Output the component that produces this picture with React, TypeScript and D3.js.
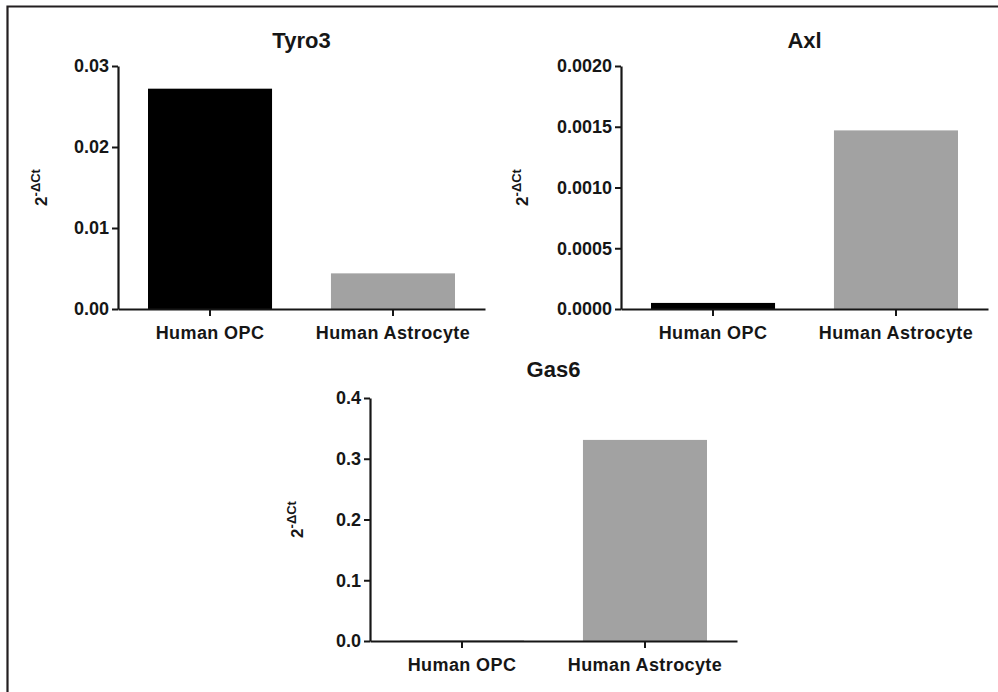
import React from "react";
import { useRef, useEffect } from "react";
import { select, scaleLinear, scaleBand, axisLeft, axisBottom, format } from "d3";

const categories = ["Human OPC", "Human Astrocyte"];
const barColors = ["#000000", "#a2a2a2"];

const tyro3Values = [0.0272, 0.0044];
const axlValues = [0.00005, 0.00147];
const gas6Values = [0.0004, 0.331];

const tyro3Ticks = [0, 0.01, 0.02, 0.03];
const axlTicks = [0, 0.0005, 0.001, 0.0015, 0.002];
const gas6Ticks = [0, 0.1, 0.2, 0.3, 0.4];

const panels = [
  { title: "Tyro3", values: tyro3Values, ticks: tyro3Ticks, fmt: ".2f", x0: 118, x1: 485, y0: 66, y1: 309, titleY: 48, labelX: 47 },
  { title: "Axl", values: axlValues, ticks: axlTicks, fmt: ".4f", x0: 621, x1: 988, y0: 66, y1: 309, titleY: 48, labelX: 528 },
  { title: "Gas6", values: gas6Values, ticks: gas6Ticks, fmt: ".1f", x0: 370, x1: 737, y0: 398, y1: 641, titleY: 377, labelX: 303 },
];

const FONT = "'Liberation Sans', Arial, sans-serif";
const INK = "#161616";

function App() {
  const svgRef = useRef<SVGSVGElement>(null);

  useEffect(() => {
    const svg = select(svgRef.current);
    svg.selectAll("*").remove();

    // frame: only top and left edges show in the figure
    svg
      .append("path")
      .attr("d", "M7.5,692 L7.5,6.5 L998,6.5")
      .attr("fill", "none")
      .attr("stroke", "#231f20")
      .attr("stroke-width", 2.2);

    panels.forEach((p) => {
      const g = svg.append("g");
      const yMax = p.ticks[p.ticks.length - 1];
      const y = scaleLinear().domain([0, yMax]).range([p.y1, p.y0]);
      const x = scaleBand<string>()
        .domain(categories)
        .range([p.x0, p.x1])
        .paddingInner(0.322)
        .paddingOuter(0.164);

      g.selectAll(".bar")
        .data(p.values)
        .enter()
        .append("rect")
        .attr("x", (d, i) => x(categories[i]) as number)
        .attr("y", (d) => y(d))
        .attr("width", x.bandwidth())
        .attr("height", (d) => p.y1 - y(d))
        .attr("fill", (d, i) => barColors[i]);

      const yAxis = axisLeft(y)
        .tickValues(p.ticks)
        .tickFormat(format(p.fmt) as any)
        .tickSize(6)
        .tickSizeOuter(0)
        .tickPadding(3);
      const yg = g.append("g").attr("transform", `translate(${p.x0},0)`).call(yAxis);

      const xAxis = axisBottom(x).tickSize(7).tickSizeOuter(0).tickPadding(6);
      const xg = g.append("g").attr("transform", `translate(0,${p.y1})`).call(xAxis);

      [yg, xg].forEach((ax) => {
        ax.select(".domain").attr("stroke", INK).attr("stroke-width", 2.2);
        ax.selectAll(".tick line").attr("stroke", INK).attr("stroke-width", 2);
        ax.selectAll(".tick text")
          .attr("fill", INK)
          .style("font-family", FONT)
          .style("font-weight", "bold")
          .style("font-size", "18px");
      });
      xg.selectAll(".tick text").attr("dy", "0.95em").style("letter-spacing", "0.4px");

      g.append("text")
        .attr("x", (p.x0 + p.x1) / 2)
        .attr("y", p.titleY)
        .attr("text-anchor", "middle")
        .style("font-family", FONT)
        .style("font-weight", "bold")
        .style("font-size", "22px")
        .attr("fill", INK)
        .text(p.title);

      const lab = g
        .append("text")
        .attr("transform", `translate(${p.labelX},${(p.y0 + p.y1) / 2}) rotate(-90)`)
        .attr("text-anchor", "middle")
        .style("font-family", FONT)
        .style("font-weight", "bold")
        .attr("fill", INK);
      lab.append("tspan").style("font-size", "17px").text("2");
      lab.append("tspan").style("font-size", "13px").attr("dy", -7).text("-ΔCt");
    });
  }, []);

  return (
    <svg
      ref={svgRef}
      width={998}
      height={692}
      style={{ position: "absolute", left: 0, top: 0, background: "#fff" }}
    />
  );
}

export default App;
